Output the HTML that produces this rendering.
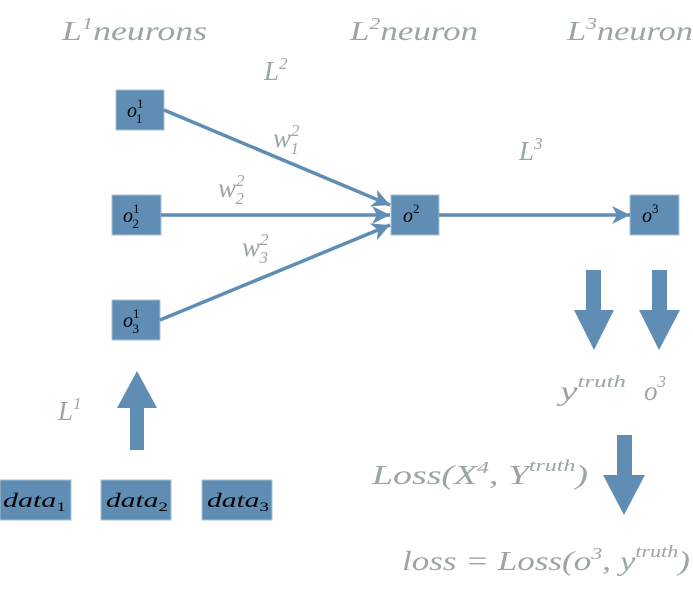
<!DOCTYPE html>
<html><head><meta charset="utf-8"><style>
body{margin:0;background:#fff;}
svg{display:block;}
.t{font-family:"Liberation Serif",serif;font-style:italic;fill:#9aa6a6;font-size:27px;}
.s{font-size:17px;}
.b{font-family:"Liberation Serif",serif;font-style:italic;fill:#000;font-size:20px;}
.bs{font-size:13px;font-style:normal;}
</style></head><body>
<svg width="693" height="605" viewBox="0 0 693 605" xmlns="http://www.w3.org/2000/svg">
<defs><marker id="ah" markerWidth="20" markerHeight="20" refX="18" refY="9" orient="auto" markerUnits="userSpaceOnUse"><path d="M0,0 L18,9 L0,18 L5,9z" fill="#5f8db3"/></marker></defs>
<g fill="#5f8db3" stroke="#a9c1d6" stroke-width="1">
<rect x="116" y="90" width="48" height="40"/>
<rect x="112" y="195" width="49" height="40"/>
<rect x="112" y="300" width="48" height="40"/>
<rect x="391" y="195" width="48" height="40"/>
<rect x="630" y="195" width="49" height="40"/>
<rect x="0" y="480" width="71" height="40"/>
<rect x="101" y="480" width="70" height="40"/>
<rect x="202" y="480" width="70" height="40"/>
</g>
<g stroke="#5f8db3" stroke-width="3.5" fill="none" marker-end="url(#ah)">
<line x1="164" y1="110" x2="390" y2="205"/>
<line x1="161" y1="215" x2="390" y2="215"/>
<line x1="160" y1="320" x2="390" y2="225"/>
<line x1="439" y1="215" x2="630" y2="215"/>
</g>
<g fill="#5f8db3">
<path d="M130,450 L144,450 L144,408 L157,408 L137,371 L117,408 L130,408z"/>
<path d="M586,270 L601,270 L601,310 L614,310 L594,350 L574,310 L586,310z"/>
<path d="M652,270 L667,270 L667,310 L680,310 L659,350 L639,310 L652,310z"/>
<path d="M617,435 L632,435 L632,475 L645,475 L624,515 L603,475 L617,475z"/>
</g>
<g class="b">
<text x="127" y="117">o<tspan class="bs" dy="-9">1</tspan><tspan class="bs" dx="-7" dy="15">1</tspan></text>
<text x="123" y="222">o<tspan class="bs" dy="-9">1</tspan><tspan class="bs" dx="-7" dy="15">2</tspan></text>
<text x="123" y="327">o<tspan class="bs" dy="-9">1</tspan><tspan class="bs" dx="-7" dy="15">3</tspan></text>
<text x="403" y="222">o<tspan class="bs" dy="-9">2</tspan></text>
<text x="642" y="222">o<tspan class="bs" dy="-9">3</tspan></text>
<text x="3" y="507" textLength="63" lengthAdjust="spacingAndGlyphs">data<tspan class="bs" dy="4">1</tspan></text>
<text x="106" y="507" textLength="62" lengthAdjust="spacingAndGlyphs">data<tspan class="bs" dy="4">2</tspan></text>
<text x="207" y="507" textLength="62" lengthAdjust="spacingAndGlyphs">data<tspan class="bs" dy="4">3</tspan></text>
</g>
<g class="t">
<text x="62" y="40" textLength="145" lengthAdjust="spacingAndGlyphs">L<tspan class="s" dy="-11">1</tspan><tspan dy="11">neurons</tspan></text>
<text x="350" y="40" textLength="128" lengthAdjust="spacingAndGlyphs">L<tspan class="s" dy="-11">2</tspan><tspan dy="11">neuron</tspan></text>
<text x="567" y="40" textLength="126" lengthAdjust="spacingAndGlyphs">L<tspan class="s" dy="-11">3</tspan><tspan dy="11">neuron</tspan></text>
<text x="264" y="80">L<tspan class="s" dy="-11">2</tspan></text>
<text x="519" y="160">L<tspan class="s" dy="-11">3</tspan></text>
<text x="273" y="147">w<tspan class="s" dy="-11">2</tspan><tspan class="s" dx="-9" dy="18">1</tspan></text>
<text x="218" y="197">w<tspan class="s" dy="-11">2</tspan><tspan class="s" dx="-9" dy="18">2</tspan></text>
<text x="242" y="256">w<tspan class="s" dy="-11">2</tspan><tspan class="s" dx="-9" dy="18">3</tspan></text>
<text x="58" y="420">L<tspan class="s" dy="-11">1</tspan></text>
<text x="560" y="400" textLength="66" lengthAdjust="spacingAndGlyphs">y<tspan class="s" dy="-13">truth</tspan></text>
<text x="644" y="400">o<tspan class="s" dy="-13">3</tspan></text>
<text x="372" y="484" textLength="216" lengthAdjust="spacingAndGlyphs">Loss(X<tspan class="s" dy="-11">4</tspan><tspan dy="11">, Y</tspan><tspan class="s" dy="-13">truth</tspan><tspan dy="13">)</tspan></text>
<text x="402" y="570" textLength="288" lengthAdjust="spacingAndGlyphs">loss = Loss(o<tspan class="s" dy="-11">3</tspan><tspan dy="11">, y</tspan><tspan class="s" dy="-13">truth</tspan><tspan dy="13">)</tspan></text>
</g>
</svg>
</body></html>
